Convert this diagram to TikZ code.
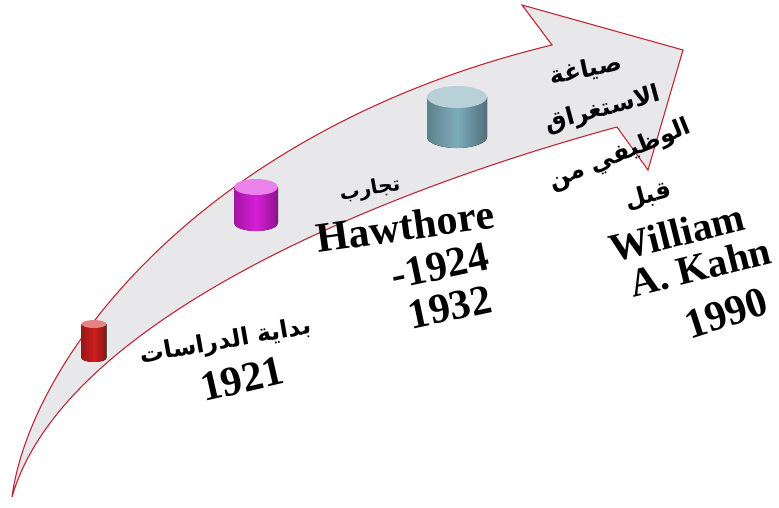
\documentclass[tikz,border=0pt]{standalone}
\usepackage{fontspec}
\setmainfont{Liberation Serif}
\newfontfamily\arabicfont[Script=Arabic]{DejaVu Sans}
\TeXXeTstate=1
\definecolor{edgered}{RGB}{190,40,55}
\definecolor{bandgray}{RGB}{232,232,234}
\definecolor{puckred}{RGB}{205,30,30}
\definecolor{puckpink}{RGB}{215,30,215}
\definecolor{puckblue}{RGB}{125,172,186}
\tikzset{
  band/.style={draw=edgered, line width=1.1pt, fill=bandgray},
  latin/.style={font=\fontsize{42}{44}\selectfont\bfseries, inner sep=0pt},
  arab/.style={font={\arabicfont\bfseries\fontsize{24}{26}\selectfont}, inner sep=0pt},
  pics/puck/.style n args={4}{code={
    \fill[left color=#4!75!black, right color=#4!65!black, middle color=#4]
      (-#1,0) -- (-#1,#2) arc[start angle=180, end angle=0, x radius=#1, y radius=#3] -- (#1,0) -- cycle;
    \fill[#4!55!white] (0,0) ellipse[x radius=#1, y radius=#3];
  }}
}
\begin{document}
\begin{tikzpicture}[x=1pt, y=-1pt]
  \useasboundingbox (0,0) rectangle (779,507);

  % the curved arrow
  \coordinate (tail) at (12,497);
  \coordinate (nu) at (552,45);
  \coordinate (bu) at (522,5);
  \coordinate (tip) at (683,50);
  \coordinate (bl) at (648,170);
  \coordinate (nl) at (617,127);
  \draw[band] (tail) .. controls (30,360) and (200,130) .. (nu) -- (bu) -- (tip)
    -- (bl) -- (nl) .. controls (350,200) and (60,330) .. (tail) -- cycle;

  % the three steps
  \pic (p1) at (94,324) {puck={12.5}{34}{4}{puckred}};
  \pic (p2) at (256,187) {puck={22}{36}{8}{puckpink}};
  \pic (p3) at (457,97) {puck={30}{40}{11}{puckblue}};

  % 1921
  \node[arab, rotate=10] (s1a) at (226,342) {\beginR بداية الدراسات\endR};
  \node[latin, rotate=13] (s1b) at (242,379) {1921};

  % Hawthorne
  \node[arab, rotate=10, font={\arabicfont\bfseries\fontsize{20}{22}\selectfont}] (s2a) at (370,190) {\beginR تجارب\endR};
  \node[latin, rotate=8] (s2b) at (405,226) {Hawthore};
  \node[latin, rotate=12] (s2c) at (440,266) {-1924};
  \node[latin, rotate=12] (s2d) at (450,307) {1932};

  % Kahn
  \node[arab, rotate=12] (s3a) at (586,70) {\beginR صياغة\endR};
  \node[arab, rotate=15] (s3b) at (603,110) {\beginR الاستغراق\endR};
  \node[arab, rotate=22] (s3c) at (620,155) {\beginR الوظيفي من\endR};
  \node[arab, rotate=15] (s3d) at (648,196) {\beginR قبل\endR};
  \node[latin, rotate=14, font=\fontsize{40}{42}\selectfont\bfseries] (s3e) at (677,233) {William};
  \node[latin, rotate=14, font=\fontsize{40}{42}\selectfont\bfseries] (s3f) at (700,267) {A. Kahn};
  \node[latin, rotate=18] (s3g) at (726,313) {1990};
\end{tikzpicture}
\end{document}
